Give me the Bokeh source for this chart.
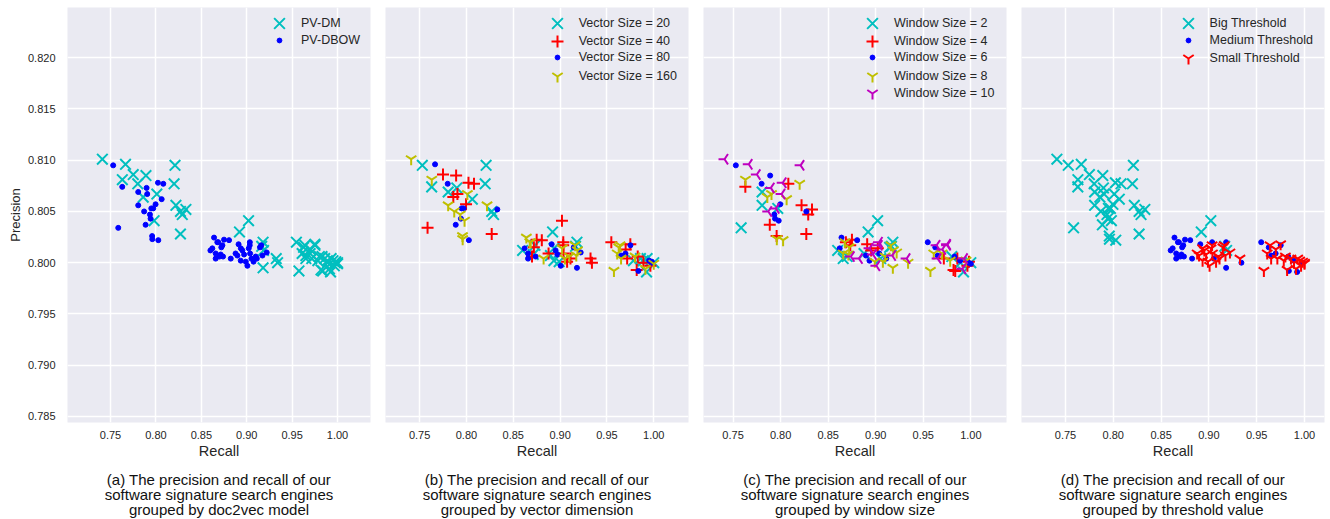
import math
from bokeh.plotting import figure
from bokeh.models import Range1d, FixedTicker, PrintfTickFormatter, Legend, LegendItem, Title
from bokeh.layouts import row
from bokeh.embed import file_html
from bokeh.resources import INLINE

# ---------------- data ----------------
recall = [
    0.741, 0.7665, 0.821, 0.763, 0.775, 0.789, 0.780, 0.820, 0.801, 0.786,
    0.798, 0.822, 0.827, 0.833, 0.827, 0.892, 0.902, 0.829, 0.9165, 0.9185,
    0.7529, 0.7629, 0.7805, 0.7897, 0.7904, 0.8022, 0.8081, 0.8063, 0.7996, 0.7949,
    0.7805, 0.7934, 0.7970, 0.7886, 0.7585, 0.7960, 0.8026, 0.7958, 0.7941, 0.7870,
    0.8640, 0.8676, 0.8750, 0.8805, 0.8732, 0.8621, 0.8600, 0.8658, 0.8713, 0.8658,
    0.8739, 0.8824, 0.8700, 0.8686, 0.8720, 0.8910, 0.9034, 0.9052,
    0.8877, 0.8935, 0.8952, 0.9033, 0.8897, 0.8971, 0.8934, 0.9007, 0.9037, 0.9099,
    0.9173, 0.9111, 0.9075, 0.9022, 0.9146, 0.9160, 0.8990, 0.9220,
    0.9180, 0.9340, 0.9547, 0.9651, 0.9829, 0.9888, 0.9836, 0.9923, 0.9626, 0.9180,
    0.9751, 0.9698, 0.9976,
    0.9575, 0.9640, 0.9750, 0.9651, 0.9716, 0.9783, 0.9858, 0.9929, 0.9964, 1.0000,
    0.9911, 1.0000, 0.9818, 0.9950, 0.9890, 0.9800, 0.9980, 0.9610, 0.9700, 0.9325,
]
precision = [
    0.8101, 0.8096, 0.8095, 0.8081, 0.8086, 0.8085, 0.8077, 0.8077, 0.8067, 0.8064,
    0.8041, 0.8056, 0.8050, 0.8052, 0.8028, 0.8030, 0.8041, 0.8047, 0.8016, 0.8012,
    0.8095, 0.8074, 0.8069, 0.8073, 0.8067, 0.8078, 0.8077, 0.8062, 0.8057, 0.8053,
    0.8056, 0.8047, 0.8053, 0.8037, 0.8034, 0.8023, 0.8022, 0.8026, 0.8043, 0.8050,
    0.80245, 0.8020, 0.80225, 0.8022, 0.8017, 0.8014, 0.8012, 0.8009, 0.8008, 0.8004,
    0.8006, 0.8004, 0.8006, 0.8020, 0.8015, 0.8018, 0.8020, 0.8004,
    0.8009, 0.8014, 0.8012, 0.8017, 0.8007, 0.8008, 0.8002, 0.7997, 0.8009, 0.8006,
    0.8007, 0.8004, 0.8001, 0.8014, 0.8015, 0.8017, 0.8001, 0.8010,
    0.7995, 0.8000, 0.8020, 0.8007, 0.8006, 0.8002, 0.7992, 0.7991, 0.8015, 0.8020,
    0.8017, 0.8009, 0.8000,
    0.7992, 0.8017, 0.8018, 0.8004, 0.8004, 0.8002, 0.8004, 0.8004, 0.7997, 0.8000,
    0.7994, 0.7999, 0.7993, 0.8002, 0.8000, 0.8006, 0.8001, 0.8009, 0.8013, 0.8004,
]
model = [
    "PV-DM", "PV-DM", "PV-DM", "PV-DM", "PV-DM", "PV-DM", "PV-DM", "PV-DM", "PV-DM", "PV-DM",
    "PV-DM", "PV-DM", "PV-DM", "PV-DM", "PV-DM", "PV-DM", "PV-DM", "PV-DM", "PV-DM", "PV-DM",
    "PV-DBOW", "PV-DBOW", "PV-DBOW", "PV-DBOW", "PV-DBOW", "PV-DBOW", "PV-DBOW", "PV-DBOW", "PV-DBOW", "PV-DBOW",
    "PV-DBOW", "PV-DBOW", "PV-DBOW", "PV-DBOW", "PV-DBOW", "PV-DBOW", "PV-DBOW", "PV-DBOW", "PV-DBOW", "PV-DBOW",
    "PV-DBOW", "PV-DBOW", "PV-DBOW", "PV-DBOW", "PV-DBOW", "PV-DBOW", "PV-DBOW", "PV-DBOW", "PV-DBOW", "PV-DBOW",
    "PV-DBOW", "PV-DBOW", "PV-DBOW", "PV-DBOW", "PV-DBOW", "PV-DBOW", "PV-DBOW", "PV-DBOW",
    "PV-DBOW", "PV-DBOW", "PV-DBOW", "PV-DBOW", "PV-DBOW", "PV-DBOW", "PV-DBOW", "PV-DBOW", "PV-DBOW", "PV-DBOW",
    "PV-DBOW", "PV-DBOW", "PV-DBOW", "PV-DBOW", "PV-DBOW", "PV-DBOW", "PV-DBOW", "PV-DBOW",
    "PV-DM", "PV-DM", "PV-DM", "PV-DM", "PV-DM", "PV-DM", "PV-DM", "PV-DM", "PV-DM", "PV-DM",
    "PV-DM", "PV-DM", "PV-DM",
    "PV-DM", "PV-DM", "PV-DM", "PV-DM", "PV-DM", "PV-DM", "PV-DM", "PV-DM", "PV-DM", "PV-DM",
    "PV-DM", "PV-DM", "PV-DM", "PV-DM", "PV-DM", "PV-DM", "PV-DM", "PV-DM", "PV-DM", "PV-DM",
]
vector_size = [
    160, 80, 20, 160, 40, 40, 80, 20, 160, 40,
    160, 160, 20, 80, 40, 20, 40, 20, 20, 160,
    20, 20, 20, 20, 40, 40, 40, 20, 40, 80,
    160, 160, 80, 80, 40, 160, 80, 160, 80, 160,
    160, 160, 40, 40, 20, 80, 20, 80, 20, 80,
    80, 160, 40, 160, 40, 80, 40, 160,
    40, 20, 80, 40, 20, 80, 20, 80, 40, 160,
    160, 40, 40, 160, 80, 160, 20, 80,
    80, 40, 40, 80, 40, 20, 80, 20, 160, 20,
    80, 80, 80,
    160, 160, 40, 160, 40, 20, 20, 20, 40, 20,
    160, 160, 40, 80, 40, 160, 80, 160, 40, 40,
]
window_size = [
    10, 10, 10, 8, 10, 6, 6, 8, 10, 8,
    6, 4, 6, 4, 4, 2, 2, 4, 2, 8,
    6, 4, 2, 10, 8, 10, 4, 8, 6, 10,
    2, 6, 2, 4, 2, 8, 8, 4, 6, 10,
    6, 8, 4, 6, 4, 6, 2, 8, 8, 2,
    10, 10, 2, 4, 8, 4, 10, 2,
    2, 10, 4, 10, 6, 10, 6, 10, 6, 8,
    10, 6, 8, 4, 2, 8, 8, 8,
    8, 8, 6, 6, 6, 6, 4, 2, 6, 2,
    10, 8, 6,
    8, 10, 10, 10, 4, 8, 4, 10, 4, 2,
    10, 6, 4, 8, 2, 2, 4, 8, 10, 10,
]
threshold = [
    "Big", "Big", "Big", "Big", "Big", "Big", "Big", "Big", "Big", "Big",
    "Big", "Big", "Big", "Big", "Big", "Big", "Big", "Big", "Big", "Big",
    "Big", "Big", "Big", "Big", "Big", "Big", "Big", "Big", "Big", "Big",
    "Big", "Big", "Big", "Big", "Big", "Big", "Big", "Big", "Big", "Big",
    "Medium", "Medium", "Medium", "Medium", "Medium", "Medium", "Medium", "Medium", "Medium", "Medium",
    "Medium", "Medium", "Medium", "Medium", "Medium", "Medium", "Medium", "Medium",
    "Small", "Small", "Small", "Small", "Small", "Small", "Small", "Small", "Small", "Small",
    "Small", "Small", "Small", "Small", "Small", "Small", "Small", "Small",
    "Medium", "Medium", "Medium", "Medium", "Medium", "Medium", "Medium", "Medium", "Medium", "Medium",
    "Medium", "Medium", "Medium",
    "Small", "Small", "Small", "Small", "Small", "Small", "Small", "Small", "Small", "Small",
    "Small", "Small", "Small", "Small", "Small", "Small", "Small", "Small", "Small", "Small",
]

model_groups = ["PV-DM", "PV-DBOW"]
model_labels = ["PV-DM", "PV-DBOW"]
vector_groups = [20, 40, 80, 160]
vector_labels = ["Vector Size = 20", "Vector Size = 40", "Vector Size = 80", "Vector Size = 160"]
window_groups = [2, 4, 6, 8, 10]
window_labels = ["Window Size = 2", "Window Size = 4", "Window Size = 6", "Window Size = 8", "Window Size = 10"]
threshold_groups = ["Big", "Medium", "Small"]
threshold_labels = ["Big Threshold", "Medium Threshold", "Small Threshold"]

x_ticks = [0.75, 0.80, 0.85, 0.90, 0.95, 1.00]
y_ticks = [0.785, 0.790, 0.795, 0.800, 0.805, 0.810, 0.815, 0.820]

captions = [
    ["(a) The precision and recall of our", "software signature search engines", "grouped by doc2vec model"],
    ["(b) The precision and recall of our", "software signature search engines", "grouped by vector dimension"],
    ["(c) The precision and recall of our", "software signature search engines", "grouped by window size"],
    ["(d) The precision and recall of our", "software signature search engines", "grouped by threshold value"],
]

# ---------------- styles ----------------
FONT = "Liberation Sans"
TXT = "#262626"
BG = "#EAEAF2"

CYAN_X = dict(marker="x", color="#00BFBF", size=15, lw=2, angle=0.0)
RED_PLUS = dict(marker="cross", color="#FF0000", size=12, lw=2, angle=0.0)
BLUE_DOT = dict(marker="circle", color="#0000FF", size=5, lw=1, angle=0.0)
YEL_Y = dict(marker="y", color="#BFBF00", size=12, lw=2, angle=0.0)
MAG_TRI = dict(marker="y", color="#BF00BF", size=12, lw=2, angle=-math.pi / 2)
RED_Y = dict(marker="y", color="#FF0000", size=12, lw=2, angle=0.0)

FRAME_W = 303
FRAME_H = 415
TOP = 7
BOTTOM = 97

panels = [
    dict(key=model, groups=model_groups, labels=model_labels, styles=[CYAN_X, BLUE_DOT],
         xr=(0.7026, 1.0363), left=67, right=7, leg_x=212),
    dict(key=vector_size, groups=vector_groups, labels=vector_labels,
         styles=[CYAN_X, RED_PLUS, BLUE_DOT, YEL_Y],
         xr=(0.7136, 1.0371), left=8, right=7, leg_x=171.7),
    dict(key=window_size, groups=window_groups, labels=window_labels,
         styles=[CYAN_X, RED_PLUS, BLUE_DOT, YEL_Y, MAG_TRI],
         xr=(0.7189, 1.0375), left=8, right=7, leg_x=169),
    dict(key=threshold, groups=threshold_groups, labels=threshold_labels,
         styles=[CYAN_X, BLUE_DOT, RED_Y],
         xr=(0.7040, 1.0209), left=8, right=6, leg_x=166.6),
]

figs = []
for i, pan in enumerate(panels):
    p = figure(width=pan["left"] + FRAME_W + pan["right"], height=TOP + FRAME_H + BOTTOM,
               x_range=Range1d(*pan["xr"]), y_range=Range1d(0.78441, 0.82490),
               output_backend="svg", toolbar_location=None,
               min_border_left=pan["left"], min_border_right=pan["right"],
               min_border_top=TOP, min_border_bottom=BOTTOM,
               background_fill_color=BG, border_fill_color="white",
               outline_line_color=None)
    p.xaxis.ticker = FixedTicker(ticks=x_ticks)
    p.xaxis.formatter = PrintfTickFormatter(format="%.2f")
    p.yaxis.ticker = FixedTicker(ticks=y_ticks)
    p.yaxis.formatter = PrintfTickFormatter(format="%.3f")
    for ax in p.axis:
        ax.axis_line_color = None
        ax.major_tick_line_color = None
        ax.minor_tick_line_color = None
        ax.major_tick_out = 0
        ax.major_tick_in = 0
        ax.minor_tick_out = 0
        ax.minor_tick_in = 0
        ax.major_label_text_font = FONT
        ax.major_label_text_font_size = "11px"
        ax.major_label_text_color = TXT
        ax.axis_label_text_font = FONT
        ax.axis_label_text_font_size = "14.5px"
        ax.axis_label_text_font_style = "normal"
        ax.axis_label_text_color = TXT
    p.xaxis.axis_label = "Recall"
    p.xaxis.major_label_standoff = 8
    p.xaxis.axis_label_standoff = 1
    if i == 0:
        p.yaxis.axis_label = "Precision"
        p.yaxis.axis_label_text_font_size = "13px"
        p.yaxis.major_label_standoff = 12
        p.yaxis.axis_label_standoff = 2
    else:
        p.yaxis.visible = False
    p.grid.grid_line_color = "white"
    p.grid.grid_line_width = 1.5

    key = pan["key"]
    for k, (g, lab, st) in enumerate(zip(pan["groups"], pan["labels"], pan["styles"])):
        xs = [r for r, kk in zip(recall, key) if kk == g]
        ys = [q for q, kk in zip(precision, key) if kk == g]
        rend = p.scatter(xs, ys, marker=st["marker"], size=st["size"],
                         line_color=st["color"], fill_color=st["color"],
                         line_width=st["lw"], angle=st["angle"])
        gsz = int(round(st["size"] / 0.4))
        cy = 16.3 + 17.45 * k
        leg = Legend(items=[LegendItem(label=lab, renderers=[rend])],
                     location=(pan["leg_x"] - gsz / 2, FRAME_H - (cy + gsz / 2)),
                     background_fill_alpha=0, border_line_alpha=0,
                     label_text_font=FONT, label_text_font_size="12.5px",
                     label_text_color=TXT, glyph_width=gsz, glyph_height=gsz,
                     label_height=gsz, label_standoff=int(round(22 - gsz / 2)),
                     padding=0, margin=0, spacing=0)
        p.add_layout(leg)

    # spacer between the axis label and the caption
    p.add_layout(Title(text=" ", text_font_size="1px", standoff=6), "below")
    for j, line in enumerate(captions[i]):
        t = Title(text=line, align="center", text_font=FONT, text_font_size="15px",
                  text_font_style="normal", text_color="#111111", standoff=-4)
        p.add_layout(t, "below")
    figs.append(p)

layout = row(*figs)
open("out.html", "w").write(file_html(layout, INLINE))
